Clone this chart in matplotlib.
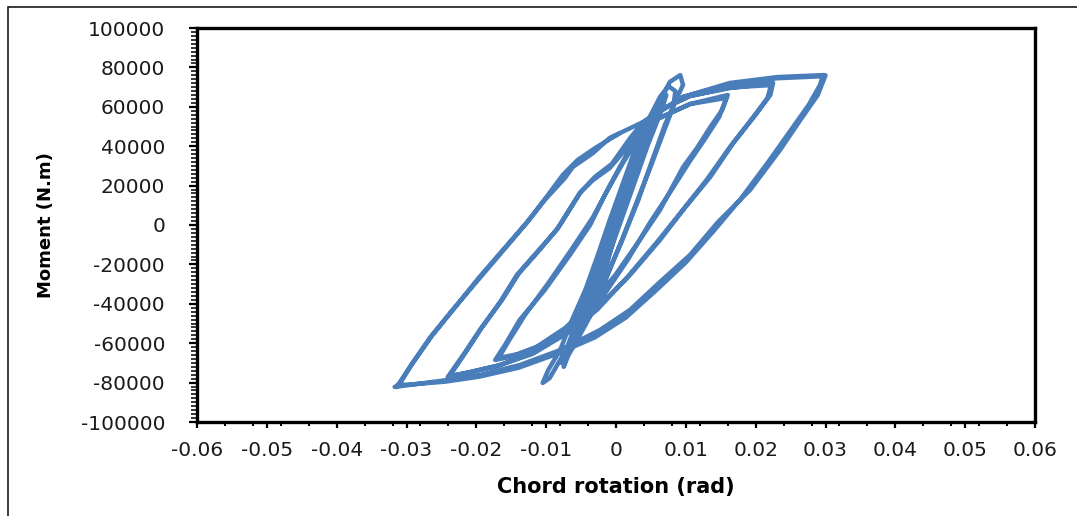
import matplotlib
matplotlib.use("Agg")
import matplotlib.pyplot as plt
from matplotlib.ticker import MultipleLocator, FixedLocator, FixedFormatter
from matplotlib.patches import Rectangle

plt.rcParams["axes.unicode_minus"] = False
plt.rcParams["font.family"] = ["DejaVu Sans"]

# Chord rotation (rad) / moment (N.m) for each loading cycle, in test order
cyc0_rot = [0.0, 0.0008, 0.0015, 0.0010, 0.0, -0.0008, -0.0015, -0.0010, 0.0, 0.0008, 0.0016]
cyc0_mom = [0, 11000, 20000, 12000, -1000, -12000, -22000, -13000, 1000, 11000, 21000]

cyc1_rot = [0.0020, 0.0030, 0.0025, 0.0010, -0.0005, -0.0020, -0.0030, -0.0024, -0.0010, 0.0005, 0.0020, 0.0031]
cyc1_mom = [27000, 38000, 31000, 14000, -5000, -25000, -40000, -33000, -16000, 3000, 24000, 39000]

cyc2_rot = [0.0045, 0.0060, 0.0050, 0.0030, 0.0010, -0.0010, -0.0030, -0.0045, -0.0060,
            -0.0040, -0.0020, 0.0000, 0.0020, 0.0040, 0.0050, 0.0061]
cyc2_mom = [47000, 58000, 48000, 30000, 10000, -10000, -30000, -45000, -60000,
            -42000, -22000, -2000, 20000, 40000, 50000, 59000]

cyc2b_rot = [0.0072, 0.0065, 0.0045, 0.0025, 0.0005, -0.0015, -0.0035, -0.0055, -0.0070, -0.0078,
             -0.0070, -0.0055, -0.0040, -0.0022, -0.0005, 0.0012, 0.0030, 0.0048, 0.0062]
cyc2b_mom = [66000, 58000, 40000, 20000, 0, -20000, -38000, -52000, -63000, -70000,
             -62000, -48000, -34000, -16000, 2000, 20000, 38000, 52000, 62000]

cyc3_rot = [0.0077, 0.0092, 0.0096, 0.0086, 0.0070, 0.0052, 0.0032, 0.0009, -0.0016, -0.0037,
            -0.0059, -0.0080, -0.0095, -0.0105, -0.0097, -0.0080, -0.0063, -0.0044, -0.0026,
            -0.0009, 0.0009, 0.0027, 0.0046, 0.0063, 0.0075, 0.0085, 0.0082, 0.0068, 0.0050,
            0.0030, 0.0008, -0.0015, -0.0035, -0.0055, -0.0068, -0.0075, -0.0068, -0.0055,
            -0.0040, -0.0022, -0.0005, 0.0012, 0.0030, 0.0048]
cyc3_mom = [72600, 76100, 71100, 63500, 50800, 33000, 12700, -7600, -27900, -43100,
            -55800, -68500, -77700, -80200, -73600, -63500, -48200, -33000, -15200,
            2500, 20300, 38100, 53300, 65000, 70500, 68000, 60000, 47000, 30000,
            12000, -8000, -28000, -45000, -58000, -66000, -72000, -64000, -52000,
            -38000, -20000, -2000, 16000, 34000, 51000]

cyc4_rot = [0.0056, 0.0106, 0.0160, 0.0152, 0.0135, 0.0116, 0.0096, 0.0063, 0.0034, -0.0001,
            -0.0037, -0.0073, -0.0116, -0.0152, -0.0173, -0.0159, -0.0138, -0.0102, -0.0066,
            -0.0037, -0.0016, 0.0003, 0.0023, 0.0056, 0.0106, 0.0158, 0.0148, 0.0128, 0.0105,
            0.0080, 0.0050, 0.0018, -0.0020, -0.0060, -0.0100, -0.0140, -0.0168, -0.0153,
            -0.0130, -0.0097, -0.0062, -0.0033, -0.0011, 0.0010, 0.0035]
cyc4_mom = [53300, 61400, 66000, 58400, 49700, 39100, 29400, 7600, -7600, -25400,
            -40600, -52300, -62400, -67000, -68500, -60900, -48200, -33000, -15200,
            0, 15200, 27900, 40600, 53300, 61400, 64500, 55000, 44000, 32000,
            18000, 2000, -17000, -37000, -51000, -60000, -65500, -67500, -58500,
            -45500, -29500, -11500, 4000, 18500, 31500, 46000]

cyc5_rot = [0.0063, 0.0106, 0.0163, 0.0225, 0.0221, 0.0202, 0.0168, 0.0135, 0.0096, 0.0063,
            0.0020, -0.0023, -0.0066, -0.0116, -0.0166, -0.0209, -0.0241, -0.0216, -0.0195,
            -0.0166, -0.0142, -0.0113, -0.0085, -0.0052, -0.0033, -0.0009, 0.0013, 0.0034,
            0.0063, 0.0106, 0.0163, 0.0222, 0.0217, 0.0197, 0.0164, 0.0130, 0.0092, 0.0058,
            0.0015, -0.0027, -0.0070, -0.0120, -0.0170, -0.0212, -0.0238, -0.0214, -0.0192,
            -0.0163, -0.0139, -0.0109, -0.0082, -0.0050, -0.0030, -0.0006, 0.0020]
cyc5_mom = [58400, 65500, 69500, 72100, 66000, 56900, 41600, 24400, 7600, -7600,
            -25400, -40600, -53300, -64500, -71100, -74600, -77200, -64500, -53300,
            -39100, -25400, -13700, -2500, 16200, 22800, 28900, 38100, 49200,
            58400, 65500, 69800, 71000, 64500, 55000, 40000, 23000, 6000, -9000,
            -27000, -43000, -55000, -65500, -71500, -75000, -76500, -64000, -52000,
            -38000, -24500, -12500, -1000, 17000, 24500, 31000, 44000]

cyc6_rot = [0.0039, 0.0096, 0.0163, 0.0231, 0.0297, 0.0300, 0.0289, 0.0264, 0.0235, 0.0192,
            0.0146, 0.0106, 0.0063, 0.0020, -0.0023, -0.0080, -0.0138, -0.0195, -0.0242,
            -0.0295, -0.0317, -0.0314, -0.0295, -0.0266, -0.0235, -0.0199, -0.0128, -0.0102,
            -0.0073, -0.0062, -0.0033, -0.0009, 0.0039, 0.0096, 0.0163, 0.0231, 0.0296, 0.0292,
            0.0276, 0.0250, 0.0218, 0.0178, 0.0140, 0.0100, 0.0058, 0.0014, -0.0030, -0.0085,
            -0.0140, -0.0196, -0.0244, -0.0296, -0.0313, -0.0310, -0.0292, -0.0263, -0.0232,
            -0.0197, -0.0126, -0.0099, -0.0076, -0.0055, -0.0028, 0.0005]
cyc6_mom = [52300, 65000, 72100, 75100, 76100, 76000, 66000, 53300, 38100, 17800,
            1500, -15200, -28900, -43100, -53300, -63500, -71100, -76100, -78700,
            -81200, -82200, -82200, -72000, -57000, -43500, -28500, 1000, 12700,
            23900, 29400, 36500, 44200, 52300, 65000, 71500, 74500, 75500, 71000,
            61000, 48000, 32000, 13000, -3000, -19000, -33000, -47000, -57000, -65500,
            -72500, -77000, -79500, -81000, -81200, -80800, -70500, -56000, -42500,
            -27000, 2000, 14500, 25500, 33000, 39500, 46500]

x_ticks = [-0.06, -0.05, -0.04, -0.03, -0.02, -0.01, 0.0, 0.01, 0.02, 0.03, 0.04, 0.05, 0.06]
x_tick_labels = ["-0.06", "-0.05", "-0.04", "-0.03", "-0.02", "-0.01", "0",
                 "0.01", "0.02", "0.03", "0.04", "0.05", "0.06"]
y_ticks = [-100000, -80000, -60000, -40000, -20000, 0, 20000, 40000, 60000, 80000, 100000]
y_tick_labels = ["-100000", "-80000", "-60000", "-40000", "-20000", "0",
                 "20000", "40000", "60000", "80000", "100000"]

rotation = (cyc0_rot + cyc1_rot + cyc2_rot + cyc2b_rot + cyc3_rot + cyc4_rot + cyc5_rot + cyc6_rot)
moment = (cyc0_mom + cyc1_mom + cyc2_mom + cyc2b_mom + cyc3_mom + cyc4_mom + cyc5_mom + cyc6_mom)

W, H = 1077, 516
fig = plt.figure(figsize=(W / 100, H / 100), dpi=100)
fig.patch.set_facecolor("white")

# chart-area border
fig.patches.append(Rectangle((8 / W, -0.2), 1.2, 1 - 7 / H + 0.2, transform=fig.transFigure,
                             fill=False, edgecolor="#1a1a1a", linewidth=1.2))

ax = fig.add_axes([197 / W, 1 - 422 / H, (1035 - 197) / W, (422 - 28) / H])
ax.plot(rotation, moment, color="#4A7EBB", linewidth=3.2,
        solid_joinstyle="round", solid_capstyle="round")

ax.set_xlim(-0.06, 0.06)
ax.set_ylim(-100000, 100000)

ax.xaxis.set_major_locator(FixedLocator(x_ticks))
ax.xaxis.set_major_formatter(FixedFormatter(x_tick_labels))
ax.yaxis.set_major_locator(FixedLocator(y_ticks))
ax.yaxis.set_major_formatter(FixedFormatter(y_tick_labels))
ax.xaxis.set_minor_locator(MultipleLocator(0.004))
ax.yaxis.set_minor_locator(MultipleLocator(2000))

for s in ax.spines.values():
    s.set_linewidth(2.4)
    s.set_color("black")

ax.tick_params(axis="y", which="major", direction="out", length=6, width=1.6,
               labelsize=14.5, pad=17, colors="black", labelcolor="#1a1a1a")
ax.tick_params(axis="y", which="minor", direction="out", length=4, width=1.1, colors="black")
ax.tick_params(axis="x", which="major", direction="out", length=4, width=1.6,
               labelsize=14.5, pad=10, colors="black", labelcolor="#1a1a1a")
ax.tick_params(axis="x", which="minor", direction="out", length=3, width=1.4, colors="black")

ax.set_xlabel("Chord rotation (rad)", fontsize=15, fontweight="bold")
ax.set_ylabel("Moment (N.m)", fontsize=13, fontweight="bold")
ax.yaxis.set_label_coords(-(197 - 55) / (1035 - 197), 0.5)
ax.xaxis.set_label_coords(0.5, -(477 - 422) / (422 - 28))

fig.savefig("out.png", dpi=100, facecolor="white")
